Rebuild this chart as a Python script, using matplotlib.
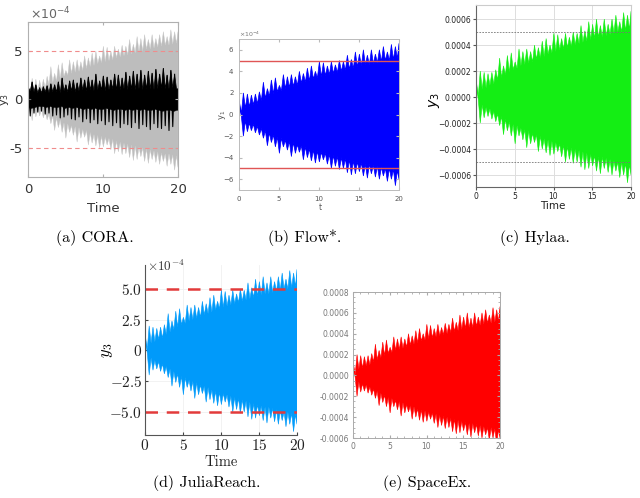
import numpy as np
import matplotlib
matplotlib.use("Agg")
import matplotlib.pyplot as plt
from matplotlib.ticker import AutoMinorLocator

plt.rcParams['mathtext.fontset'] = 'cm'

# ---------------- data (values in units of 1e-4) ----------------
peak_t = [0.55, 1.05, 1.55, 2.05, 2.55, 3.05, 3.55, 4.05, 4.55, 5.05,
          5.55, 6.05, 6.55, 7.05, 7.55, 8.05, 8.55, 9.05, 9.55, 10.05,
          10.55, 11.05, 11.55, 12.05, 12.55, 13.05, 13.55, 14.05, 14.55, 15.05,
          15.55, 16.05, 16.55, 17.05, 17.55, 18.05, 18.55, 19.05, 19.55]
trough_t = [0.3, 0.8, 1.3, 1.8, 2.3, 2.8, 3.3, 3.8, 4.3, 4.8,
            5.3, 5.8, 6.3, 6.8, 7.3, 7.8, 8.3, 8.8, 9.3, 9.8,
            10.3, 10.8, 11.3, 11.8, 12.3, 12.8, 13.3, 13.8, 14.3, 14.8,
            15.3, 15.8, 16.3, 16.8, 17.3, 17.8, 18.3, 18.8, 19.3, 19.8]
t_start, t_end = 0.0, 20.0

# reachable set envelope (Flow*, Hylaa, JuliaReach, SpaceEx)
reach_start_up, reach_start_lo = 1.4, 1.0
reach_end_up, reach_end_lo = 6.6, -6.0
reach_peak_up = [2.0, 1.9, 1.8, 1.9, 2.1, 3.0, 2.4, 3.2, 3.4, 2.7,
                 3.7, 3.5, 3.7, 3.5, 4.0, 3.8, 4.3, 4.5, 4.0, 4.9,
                 4.8, 4.5, 4.9, 4.6, 5.0, 4.9, 5.5, 5.1, 5.8, 5.6,
                 6.0, 5.5, 6.0, 5.6, 6.0, 6.3, 5.8, 6.5, 6.3]
reach_trough_up = [0.1, 0.6, 0.7, 0.9, 1.0, 1.3, 1.5, 1.7, 1.9, 2.1,
                   2.2, 2.4, 2.5, 2.6, 2.7, 2.9, 3.0, 3.1, 3.3, 3.4,
                   3.5, 3.6, 3.7, 3.8, 3.9, 4.0, 4.1, 4.2, 4.3, 4.4,
                   4.5, 4.6, 4.6, 4.7, 4.8, 4.9, 5.0, 5.0, 5.1, 5.2]
reach_peak_lo = [-2.0, -1.6, -1.5, -1.7, -1.9, -2.2, -2.9, -2.6, -3.0, -3.6,
                 -3.0, -3.3, -3.9, -3.6, -3.5, -4.2, -4.0, -4.3, -4.5, -4.4,
                 -4.2, -4.6, -5.0, -4.8, -5.1, -5.0, -5.4, -5.6, -5.5, -5.3,
                 -5.7, -5.9, -5.5, -5.8, -6.0, -5.7, -6.2, -6.0, -6.6]
reach_trough_lo = [-0.2, -0.6, -0.8, -0.9, -1.1, -1.3, -1.5, -1.7, -1.9, -2.1,
                   -2.2, -2.4, -2.5, -2.6, -2.8, -2.9, -3.0, -3.2, -3.3, -3.4,
                   -3.5, -3.6, -3.7, -3.8, -3.9, -4.0, -4.1, -4.2, -4.3, -4.4,
                   -4.5, -4.6, -4.6, -4.7, -4.8, -4.9, -5.0, -5.0, -5.1, -5.2]

# CORA over-approximation (grey)
cora_start_up, cora_start_lo = 1.5, 0.9
cora_end_up, cora_end_lo = 7.0, -7.0
cora_peak_up = [2.2, 2.1, 2.0, 2.1, 2.4, 3.4, 2.7, 3.6, 3.8, 3.0,
                4.1, 3.9, 4.1, 3.9, 4.5, 4.3, 4.8, 5.0, 4.5, 5.5,
                5.4, 5.0, 5.5, 5.2, 5.6, 5.5, 6.2, 5.7, 6.5, 6.3,
                6.7, 6.2, 6.7, 6.3, 6.7, 7.0, 6.5, 7.2, 7.0]
cora_trough_up = [0.1, 0.7, 0.8, 1.0, 1.1, 1.5, 1.7, 1.9, 2.1, 2.4,
                  2.5, 2.7, 2.8, 2.9, 3.0, 3.2, 3.4, 3.5, 3.7, 3.8,
                  3.9, 4.0, 4.1, 4.3, 4.4, 4.5, 4.6, 4.7, 4.8, 4.9,
                  5.0, 5.2, 5.2, 5.3, 5.4, 5.5, 5.6, 5.6, 5.7, 5.8]
cora_peak_lo = [-2.2, -1.8, -1.7, -1.9, -2.1, -2.5, -3.2, -2.9, -3.4, -4.0,
                -3.4, -3.7, -4.4, -4.0, -3.9, -4.7, -4.5, -4.8, -5.0, -4.9,
                -4.7, -5.2, -5.6, -5.4, -5.7, -5.6, -6.0, -6.3, -6.2, -5.9,
                -6.4, -6.6, -6.2, -6.5, -6.7, -6.4, -6.9, -6.7, -7.3]
cora_trough_lo = [-0.3, -0.7, -0.9, -1.0, -1.2, -1.5, -1.7, -1.9, -2.1, -2.4,
                  -2.5, -2.7, -2.8, -2.9, -3.1, -3.2, -3.4, -3.6, -3.7, -3.8,
                  -3.9, -4.0, -4.1, -4.3, -4.4, -4.5, -4.6, -4.7, -4.8, -4.9,
                  -5.0, -5.1, -5.2, -5.3, -5.4, -5.5, -5.6, -5.6, -5.7, -5.8]

# CORA simulations (black)
sim_start = 1.3
sim_peak_up = [1.8, 1.5, 1.2, 1.3, 1.4, 1.6, 1.5, 1.8, 2.2, 1.5,
               1.9, 2.0, 1.7, 2.2, 2.0, 2.3, 2.0, 2.6, 1.9, 2.4,
               2.3, 2.0, 2.6, 2.5, 2.2, 2.8, 2.4, 2.9, 2.6, 3.0,
               2.5, 2.9, 2.7, 3.1, 2.6, 3.2, 2.5, 3.0, 2.6]
sim_peak_lo = [-1.7, -1.4, -1.3, -1.2, -1.5, -1.4, -1.7, -1.6, -1.9, -1.8,
               -1.6, -2.0, -2.1, -1.8, -2.3, -2.0, -2.4, -2.1, -2.5, -2.2,
               -2.6, -2.3, -2.7, -2.4, -2.9, -2.5, -2.6, -2.9, -2.4, -3.0,
               -2.6, -2.8, -3.1, -2.5, -2.9, -3.0, -2.7, -3.2, -2.8]
sim_core = [0.9, 0.8, 0.7, 0.7, 0.8, 0.7, 0.8, 0.8, 0.7, 0.9,
            0.8, 0.9, 0.8, 0.9, 1.0, 0.9, 1.0, 0.9, 1.0, 1.0,
            0.9, 1.0, 1.1, 1.0, 1.0, 1.1, 1.0, 1.1, 1.0, 1.1,
            1.0, 1.1, 1.1, 1.0, 1.1, 1.2, 1.1, 1.1, 1.2, 1.1]

spec_limit = 5.0
x_ticks = [0, 5, 10, 15, 20]


def envelope(start_up, start_lo, peak_up, trough_up, peak_lo, trough_lo, end_up, end_lo):
    tu, yu = [t_start], [start_up]
    tl, yl = [t_start], [start_lo]
    for i in range(len(trough_t)):
        tu.append(trough_t[i]); yu.append(trough_up[i])
        tl.append(trough_t[i]); yl.append(trough_lo[i])
        if i < len(peak_t):
            tu.append(peak_t[i]); yu.append(peak_up[i])
            tl.append(peak_t[i]); yl.append(peak_lo[i])
    tu.append(t_end); yu.append(end_up)
    tl.append(t_end); yl.append(end_lo)
    xs = np.array(tu + tl[::-1])
    ys = np.array(yu + yl[::-1])
    return xs, ys


reach_x, reach_y = envelope(reach_start_up, reach_start_lo, reach_peak_up, reach_trough_up,
                            reach_peak_lo, reach_trough_lo, reach_end_up, reach_end_lo)
cora_x, cora_y = envelope(cora_start_up, cora_start_lo, cora_peak_up, cora_trough_up,
                          cora_peak_lo, cora_trough_lo, cora_end_up, cora_end_lo)

W, H = 640, 498
fig = plt.figure(figsize=(W / 100, H / 100), dpi=100)


def px(l, t, r, b):
    return [l / W, 1 - b / H, (r - l) / W, (b - t) / H]


def ftxt(x, y, s, **kw):
    return fig.text(x / W, 1 - y / H, s, **kw)


# ---------------- (a) CORA ----------------
ax = fig.add_axes(px(28, 22, 178, 177))
ax.fill(cora_x, cora_y, color='#bdbdbd', lw=0.3, ec='#c8c8c8')
core_x, core_y = envelope(sim_start, -0.3, sim_peak_up[:], sim_core,
                          [-v for v in sim_core[:39]], [-v for v in sim_core], 1.1, -1.1)
ax.fill(core_x, core_y, color='black', lw=0.5)
zz_t, zz_y = [t_start], [sim_start]
for i in range(len(peak_t)):
    zz_t += [peak_t[i] - 0.25, peak_t[i]]
    zz_y += [sim_peak_lo[i], sim_peak_up[i]]
ax.plot(zz_t, zz_y, color='black', lw=0.8)
for yv in (spec_limit, -spec_limit):
    ax.axhline(yv, color='#f08c8c', lw=0.8, ls=(0, (4, 3)))
ax.set_xlim(0, 20)
ax.set_ylim(-8, 8)
ax.set_xticks([0, 10, 20])
ax.set_yticks([-5, 0, 5])
ax.set_yticklabels(['-5', '0', '5'])
ax.tick_params(direction='in', length=2, labelsize=9.5, colors='#b0b0b0', labelcolor='#333333',
               top=True, right=True, pad=4)
for s in ax.spines.values():
    s.set_color('#b0b0b0'); s.set_linewidth(0.8)
ftxt(30, 14, r'$\times\mathregular{10^{-4}}$', fontsize=9, color='#666666',
     va='center', math_fontfamily='dejavusans')
ftxt(5, 100, 'y$_3$', rotation=90, ha='center', va='center', fontsize=8, color='#333333',
     math_fontfamily='dejavusans')
ftxt(103, 208, 'Time', ha='center', va='center', fontsize=9.5, color='#333333')

# ---------------- (b) Flow* ----------------
ax = fig.add_axes(px(239, 39, 399, 190))
ax.fill(reach_x, reach_y, color='#0000ff', lw=0.5, ec='#0000ff')
for yv in (spec_limit, -spec_limit):
    ax.axhline(yv, color='#e05555', lw=1.0)
ax.set_xlim(0, 20)
ax.set_ylim(-7, 7)
ax.set_xticks(x_ticks)
ax.set_yticks([-6, -4, -2, 0, 2, 4, 6])
ax.tick_params(direction='in', length=2, labelsize=5, colors='#bbbbbb', labelcolor='#555555',
               top=True, right=True, pad=4)
for s in ax.spines.values():
    s.set_color('#bbbbbb'); s.set_linewidth(0.7)
ftxt(239, 34, r'$\times\mathregular{10^{-4}}$', fontsize=4.5, color='#777777',
     va='center', math_fontfamily='dejavusans')
ftxt(222, 115, 'y$_1$', rotation=90, ha='center', va='center', fontsize=6, color='#555555',
     math_fontfamily='dejavusans')
ftxt(320, 207, 't', ha='center', va='center', fontsize=5.5, color='#555555')

# ---------------- (c) Hylaa ----------------
ax = fig.add_axes(px(476, 5, 631, 187))
ax.grid(True, color='#dddddd', lw=0.7)
ax.set_axisbelow(True)
ax.fill(np.array(reach_x), np.array(reach_y) * 1e-4, color='#14ee14', lw=0.4, ec='#14ee14')
for yv in (spec_limit, -spec_limit):
    ax.axhline(yv * 1e-4, color='#777777', lw=0.6, ls=(0, (2, 1.5)))
ax.set_xlim(0, 20)
ax.set_ylim(-6.92e-4, 7.08e-4)
ax.set_xticks(x_ticks)
h_ticks = [-6e-4, -4e-4, -2e-4, 0, 2e-4, 4e-4, 6e-4]
ax.set_yticks(h_ticks)
ax.set_yticklabels([('%.4f' % v).replace('-', '\u2212') for v in h_ticks])
ax.tick_params(length=2, labelsize=5.5, colors='#555555', labelcolor='#222222', pad=1.5)
for k, s in ax.spines.items():
    s.set_color('#666666' if k in ('left', 'bottom') else '#cccccc'); s.set_linewidth(0.8)
ftxt(435, 100, r'$y_3$', rotation=90, ha='center', va='center', fontsize=10,
     math_fontfamily='dejavusans')
ftxt(553, 206, 'Time', ha='center', va='center', fontsize=7.5, color='#222222')

# ---------------- (d) JuliaReach ----------------
ax = fig.add_axes(px(145, 265, 297, 435))
ax.grid(True, color='#f0f0f0', lw=0.6)
ax.set_axisbelow(True)
ax.fill(reach_x, reach_y, color='#009afa', lw=0.4, ec='#009afa')
for yv in (spec_limit, -spec_limit):
    ax.axhline(yv, color='#e23b3b', lw=1.8, ls=(0, (5, 3.5)))
ax.set_xlim(0, 20)
ax.set_ylim(-6.87, 6.95)
ax.set_xticks(x_ticks)
ax.set_xticklabels([r'$%d$' % v for v in x_ticks])
j_ticks = [-5, -2.5, 0, 2.5, 5]
ax.set_yticks(j_ticks)
ax.set_yticklabels([r'$-5.0$', r'$-2.5$', r'$0$', r'$2.5$', r'$5.0$'])
ax.tick_params(direction='in', length=2, labelsize=11, colors='#444444', labelcolor='#222222', pad=2)
ax.spines['top'].set_visible(False)
ax.spines['right'].set_visible(False)
for k in ('left', 'bottom'):
    ax.spines[k].set_color('#555555'); ax.spines[k].set_linewidth(0.8)
ftxt(147, 266, r'$\times10^{-4}$', fontsize=9.5, va='center', color='#333333')
ftxt(106, 350, r'$y_3$', rotation=90, ha='center', va='center', fontsize=12)
ftxt(221, 462, 'Time', ha='center', va='center', fontsize=10.5, family='cmr10', color='#222222')

# ---------------- (e) SpaceEx ----------------
ax = fig.add_axes(px(353, 292, 500, 438))
ax.fill(reach_x, np.array(reach_y) * 1e-4, color='#ff0000', lw=0.4, ec='#ff0000')
ax.set_xlim(0, 20)
ax.set_ylim(-6e-4, 8e-4)
ax.set_xticks(x_ticks)
s_ticks = [-6e-4, -4e-4, -2e-4, 0, 2e-4, 4e-4, 6e-4, 8e-4]
ax.set_yticks(s_ticks)
ax.set_yticklabels(['%.4f' % v for v in s_ticks])
ax.xaxis.set_minor_locator(AutoMinorLocator(5))
ax.yaxis.set_minor_locator(AutoMinorLocator(4))
ax.tick_params(which='both', direction='in', top=True, right=True, colors='#aaaaaa',
               labelcolor='#777777', labelsize=5.5, pad=3)
ax.tick_params(which='major', length=2.5)
ax.tick_params(which='minor', length=1.2)
for s in ax.spines.values():
    s.set_color('#aaaaaa'); s.set_linewidth(0.7)

# ---------------- captions ----------------
for x, y, s in [(95, 238, '(a) CORA.'), (305, 238, '(b) Flow*.'), (535, 238, '(c) Hylaa.'),
                (207, 483, '(d) JuliaReach.'), (427, 483, '(e) SpaceEx.')]:
    ftxt(x, y, s, ha='center', va='center', fontsize=11.5, family='cmr10')

fig.savefig('out.png', dpi=100)
